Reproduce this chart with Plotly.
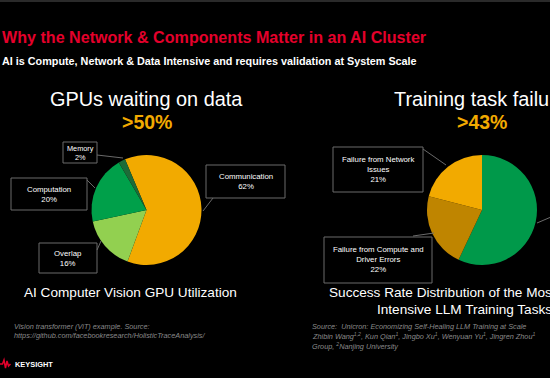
import plotly.graph_objects as go

# ---------------- data ----------------
gpu_labels = ["Communication", "Overlap", "Computation", "Memory"]
gpu_values = [62, 16, 20, 2]
gpu_colors = ["#F2AA00", "#92D050", "#00A04A", "#1D6B38"]

fail_labels = ["Success", "Failure from Compute and Driver Errors", "Failure from Network Issues"]
fail_short = ["", "Failure from Compute and<br>Driver Errors", "Failure from Network<br>Issues"]
fail_values = [57, 22, 21]
fail_colors = ["#00994A", "#BF8500", "#F2AA00"]

W, H = 550, 378
FONT = "Liberation Sans, Arial, sans-serif"


def X(px):
    return px / W


def Y(py):
    return 1 - py / H


fig = go.Figure()

fig.add_trace(go.Pie(
    labels=gpu_labels, values=gpu_values, sort=False, direction="clockwise",
    rotation=-23, marker=dict(colors=gpu_colors, line=dict(width=0)),
    textinfo="none", hoverinfo="label+percent", showlegend=False,
    domain=dict(x=[X(91.5), X(201.5)], y=[Y(265), Y(155)]),
))
fig.add_trace(go.Pie(
    labels=fail_labels, values=fail_values, sort=False, direction="clockwise",
    rotation=0, marker=dict(colors=fail_colors, line=dict(width=0)),
    textinfo="none", hoverinfo="label+percent", showlegend=False,
    domain=dict(x=[X(427), X(537)], y=[Y(265), Y(155)]),
))

shapes = []
annotations = []


def text(px, py, s, size, color="white", bold=False, italic=False, xanchor="center", font=FONT):
    if bold:
        s = "<b>" + s + "</b>"
    if italic:
        s = "<i>" + s + "</i>"
    annotations.append(dict(
        x=X(px), y=Y(py), xref="paper", yref="paper", text=s, showarrow=False,
        xanchor=xanchor, yanchor="middle", align=xanchor if xanchor != "center" else "center",
        font=dict(family=font, size=size, color=color),
    ))


def box(x0, y0, x1, y1):
    shapes.append(dict(type="rect", xref="paper", yref="paper",
                       x0=X(x0), x1=X(x1), y0=Y(y1), y1=Y(y0),
                       line=dict(color="#6a6a6a", width=1), fillcolor="black"))


def line(x0, y0, x1, y1):
    shapes.append(dict(type="line", xref="paper", yref="paper",
                       x0=X(x0), x1=X(x1), y0=Y(y0), y1=Y(y1),
                       line=dict(color="#6a6a6a", width=1)))


# top strip
shapes.append(dict(type="rect", xref="paper", yref="paper", x0=0, x1=1, y0=Y(2), y1=1,
                   line=dict(width=0), fillcolor="#2a2a2a"))

# headings
text(0, 37, "Why the Network &amp; Components Matter in an AI Cluster", 16.1, "#E4002B", bold=True, xanchor="left")
text(0, 61, "AI is Compute, Network &amp; Data Intensive and requires validation at System Scale", 10.8, "white", bold=True, xanchor="left")

text(146, 99, "GPUs waiting on data", 19.9)
text(147, 122, ">50%", 19.5, "#F2AA00", bold=True)
text(392, 99, "Training task failures", 19.9, xanchor="left")
text(482, 122, ">43%", 19.5, "#F2AA00", bold=True)

text(130, 292, "AI Computer Vision GPU Utilization", 13.6)
text(327, 292, "Success Rate Distribution of the Most", 13.6, xanchor="left")
text(375, 309, "Intensive LLM Training Tasks", 13.6, xanchor="left")

# left callouts
box(63, 142, 97, 163)
line(97, 155, 123, 158)
text(80, 152.5, f"{gpu_labels[3]}<br>{gpu_values[3]}%", 7.3)

box(11, 178, 87, 210)
line(87, 180, 95, 188)
text(49, 194, f"{gpu_labels[2]}<br>{gpu_values[2]}%", 7.8)

box(39, 243, 97, 273)
line(97, 250, 101, 241)
text(68, 258, f"{gpu_labels[1]}<br>{gpu_values[1]}%", 7.8)

box(206, 165, 285, 198)
line(213, 198, 203, 211)
text(245.5, 181.5, f"{gpu_labels[0]}<br>{gpu_values[0]}%", 7.8)

# right callouts
box(333, 147, 423, 192)
line(423, 149, 446, 165)
text(378, 169.5, f"{fail_short[2]}<br>{fail_values[2]}%", 7.8)

box(324, 237, 432, 283)
line(413, 236, 434, 233)
text(378, 259.5, f"{fail_short[1]}<br>{fail_values[1]}%", 7.8)

line(537, 223, 551, 217)

# footnotes
FN = "#8a8a8a"
text(12, 326, "Vision transformer (ViT) example. Source:", 7.3, FN, italic=True, xanchor="left")
text(12, 335, "https://github.com/facebookresearch/HolisticTraceAnalysis/", 7.3, FN, italic=True, xanchor="left")
text(310, 326, "Source:  Unicron: Economizing Self-Healing LLM Training at Scale", 7.3, FN, italic=True, xanchor="left")
text(310, 336, "Zhibin Wang<sup>1,2</sup>, Kun Qian<sup>1</sup>, Jingbo Xu<sup>1</sup>, Wenyuan Yu<sup>1</sup>, Jingren Zhou<sup>1</sup>", 7.3, FN, italic=True, xanchor="left")
text(310, 346, "Group, <sup>2</sup>Nanjing University", 7.3, FN, italic=True, xanchor="left")

# Keysight logo
wave = "M {} {} L {} {} L {} {} L {} {} L {} {} L {} {} L {} {}".format(
    X(0), Y(364), X(2.5), Y(364), X(4), Y(360), X(5.5), Y(368), X(7), Y(361), X(8.5), Y(366), X(10.5), Y(364))
shapes.append(dict(type="path", xref="paper", yref="paper", path=wave,
                   line=dict(color="#E4002B", width=1.5)))
text(12.5, 364.5, "KEYSIGHT", 7.4, "white", bold=True, xanchor="left")

fig.update_layout(
    width=W, height=H, margin=dict(l=0, r=0, t=0, b=0),
    paper_bgcolor="black", plot_bgcolor="black",
    shapes=shapes, annotations=annotations, showlegend=False,
)

fig.write_html(
    "out.html",
    config={"displayModeBar": False},
    post_script="document.body.style.margin='0px';document.body.style.background='black';",
)
